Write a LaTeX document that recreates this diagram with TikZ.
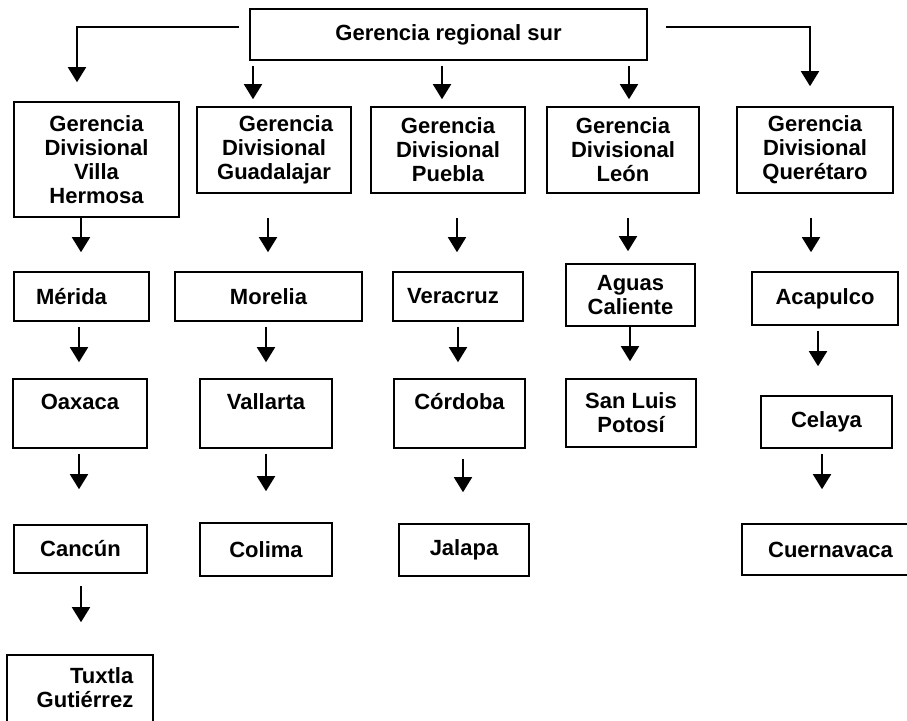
\documentclass[tikz,border=0pt]{standalone}
\usepackage{fontspec}
\setmainfont{Liberation Sans}
\usetikzlibrary{arrows.meta,calc}
\begin{document}
\begin{tikzpicture}[x=1pt,y=-1pt,
  box/.style={draw, line width=1.6pt, inner sep=0pt, align=center,
    font=\fontsize{22}{24}\selectfont\bfseries},
  arr/.style={line width=1.8pt, -{Triangle[width=18pt,length=15pt]}},
  link/.style={line width=1.8pt}]
\useasboundingbox (0,0) rectangle (907,720);
\fill[white] (0,0) rectangle (907,720);

% head office
\node[box, minimum width=397pt, minimum height=51pt] (top) at (448.5,34.5) {Gerencia regional sur};

% divisional offices
\node[box, minimum width=165pt, minimum height=115pt] (vh) at (96.5,159.5) {Gerencia\\Divisional\\Villa\\Hermosa};
\node[box, minimum width=154pt, minimum height=86pt] (guad) at (274,150) {\hspace*{24pt}Gerencia\\Divisional\\Guadalajar};
\node[box, minimum width=154pt, minimum height=86pt] (puebla) at (448,150) {Gerencia\\Divisional\\Puebla};
\node[box, minimum width=152pt, minimum height=86pt] (leon) at (623,150) {Gerencia\\Divisional\\León};
\node[box, minimum width=156pt, minimum height=86pt] (qro) at (815,150) {Gerencia\\Divisional\\Querétaro};

% second level
\node[box, minimum width=135pt, minimum height=49pt] (merida) at (81.5,296.5) {Mérida\hspace*{20pt}};
\node[box, minimum width=187pt, minimum height=49pt] (morelia) at (268.5,296.5) {Morelia};
\node[box, minimum width=130pt, minimum height=49pt] (veracruz) at (458,296.5) {Veracruz\hspace*{10pt}};
\node[box, minimum width=129pt, minimum height=62pt] (aguas) at (630.5,295) {Aguas\\Caliente};
\node[box, minimum width=146pt, minimum height=53pt] (acap) at (825,298.5) {Acapulco};

% third level
\node[box, minimum width=134pt, minimum height=69pt] (oaxaca) at (80,413.5) {Oaxaca\\{}};
\node[box, minimum width=132pt, minimum height=69pt] (vallarta) at (266,413.5) {Vallarta\\{}};
\node[box, minimum width=131pt, minimum height=69pt] (cordoba) at (459.5,413.5) {Córdoba\\{}};
\node[box, minimum width=130pt, minimum height=68pt] (slp) at (631,413) {San Luis\\Potosí};
\node[box, minimum width=131pt, minimum height=52pt] (celaya) at (826.5,422) {Celaya};

% fourth level
\node[box, minimum width=133pt, minimum height=48pt] (cancun) at (80.5,549) {Cancún};
\node[box, minimum width=132pt, minimum height=53pt] (colima) at (266,549.5) {Colima};
\node[box, minimum width=130pt, minimum height=52pt] (jalapa) at (464,550) {Jalapa};
\node[box, minimum width=177pt, minimum height=51pt] (cuerna) at (830.5,549.5) {Cuernavaca};

% fifth level
\node[box, minimum width=146pt, minimum height=90pt, align=right] (tuxtla) at (80,700) {Tuxtla\\\hspace*{10pt}Gutiérrez\\{}};

% head office to divisions
\draw[arr] ($(top.north west)+(-10,19)$) -| ($(vh.north)+(-19.5,-19)$);
\draw[arr] ($(top.north east)+(18,19)$) -| ($(qro.north)+(-5,-20)$);
\draw[arr] ($(top.south)+(-195.5,5)$) -- ($(guad.north)+(-21,-7)$);
\draw[arr] ($(top.south)+(-6.5,5)$) -- ($(puebla.north)+(-6,-7)$);
\draw[arr] ($(top.south)+(180.5,5)$) -- ($(leon.north)+(6,-7)$);

% divisions to second level
\draw[arr] ($(vh.south)+(-15.5,0)$) -- ($(merida.north)+(-0.5,-19)$);
\draw[arr] ($(guad.south)+(-6,24)$) -- ($(morelia.north)+(-0.5,-19)$);
\draw[arr] ($(puebla.south)+(9,24)$) -- ($(veracruz.north)+(-1,-19)$);
\draw[arr] ($(leon.south)+(5,24)$) -- ($(aguas.north)+(-2.5,-12)$);
\draw[arr] ($(qro.south)+(-4,24)$) -- ($(acap.north)+(-14,-19)$);

% second to third level
\draw[arr] ($(merida.south)+(-2.5,5)$) -- ($(oaxaca.north)+(-1,-16)$);
\draw[arr] ($(morelia.south)+(-2.5,5)$) -- ($(vallarta.north)+(0,-16)$);
\draw[arr] ($(veracruz.south)+(0,5)$) -- ($(cordoba.north)+(-1.5,-16)$);
\draw[arr] ($(aguas.south)+(-0.5,0)$) -- ($(slp.north)+(-1,-17)$);
\draw[arr] ($(acap.south)+(-7,5)$) -- ($(celaya.north)+(-8.5,-29)$);

% third to fourth level
\draw[arr] ($(oaxaca.south)+(-1,5)$) -- ($(cancun.north)+(-1.5,-35)$);
\draw[arr] ($(vallarta.south)+(0,5)$) -- ($(colima.north)+(0,-31)$);
\draw[arr] ($(cordoba.south)+(3.5,10)$) -- ($(jalapa.north)+(-1,-31)$);
\draw[arr] ($(celaya.south)+(-4.5,5)$) -- ($(cuerna.north)+(-8.5,-34)$);

% fourth to fifth level
\draw[arr] ($(cancun.south)+(0.5,12)$) -- ($(tuxtla.north)+(1,-32)$);
\end{tikzpicture}
\end{document}
